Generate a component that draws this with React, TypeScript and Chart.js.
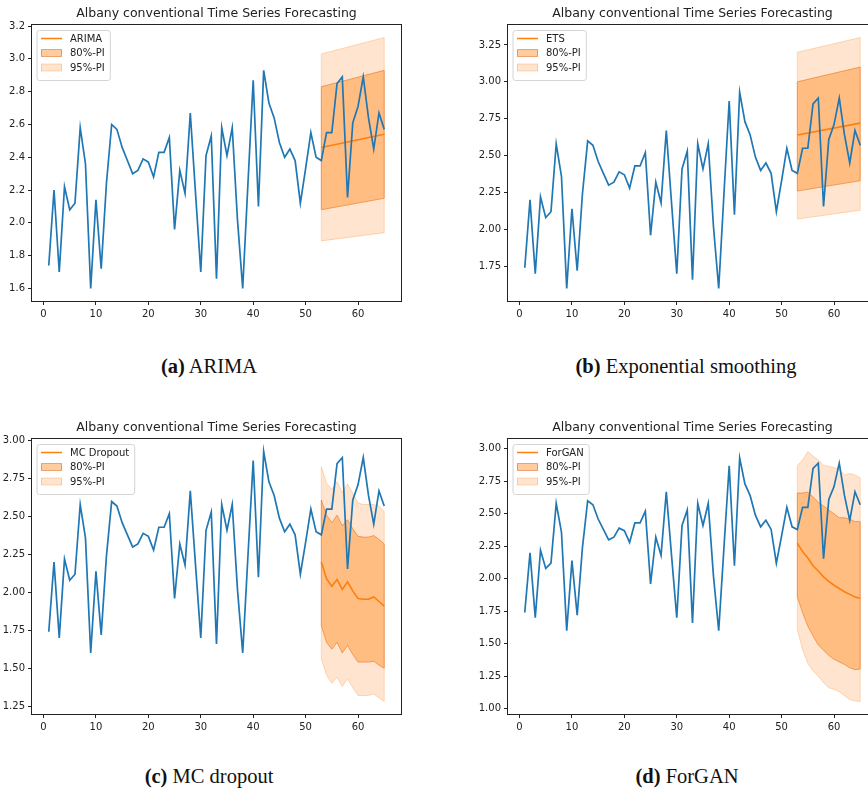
import React, { useEffect, useRef } from "react";
import { Chart, registerables } from "chart.js";

Chart.register(...registerables);

// ---- data ---------------------------------------------------------------
const chartTitle = "Albany conventional Time Series Forecasting";

// observed series, time steps 1..65
const observed = [
  1.74, 2.2, 1.7, 2.22, 2.08, 2.12, 2.58, 2.36, 1.6, 2.14,
  1.72, 2.24, 2.6, 2.57, 2.46, 2.38, 2.3, 2.32, 2.39, 2.37,
  2.28, 2.43, 2.43, 2.52, 1.96, 2.32, 2.18, 2.67, 2.18, 1.7,
  2.41, 2.53, 1.66, 2.58, 2.41, 2.58, 2.02, 1.6, 2.24, 2.87,
  2.1, 2.93, 2.73, 2.64, 2.49, 2.4, 2.45, 2.38, 2.12, 2.33,
  2.55, 2.4, 2.38, 2.55, 2.55, 2.85, 2.89, 2.155, 2.61, 2.71,
  2.89, 2.64, 2.45, 2.67, 2.57,
];
const observedSteps = observed.map((_, i) => i + 1);

// straight-line forecasts: start and end of the horizon
const lineHorizon = [53, 65];
const arimaMean = [2.46, 2.54];
const arima80Lo = [2.08, 2.15];
const arima80Hi = [2.83, 2.93];
const arima95Lo = [1.89, 1.94];
const arima95Hi = [3.03, 3.13];

const etsMean = [2.64, 2.72];
const ets80Lo = [2.26, 2.33];
const ets80Hi = [3.0, 3.1];
const ets95Lo = [2.07, 2.13];
const ets95Hi = [3.2, 3.3];

// step-by-step forecasts
const stepHorizon = [53, 54, 55, 56, 57, 58, 59, 60, 61, 62, 63, 64, 65];
const mcMean = [2.2, 2.09, 2.04, 2.085, 2.02, 2.07, 2.01, 1.96, 1.955, 1.955, 1.97, 1.94, 1.91];
const mc80Hi = [2.61, 2.51, 2.46, 2.51, 2.44, 2.48, 2.42, 2.37, 2.365, 2.365, 2.375, 2.35, 2.32];
const mc80Lo = [1.78, 1.67, 1.625, 1.67, 1.6, 1.65, 1.59, 1.54, 1.54, 1.54, 1.545, 1.52, 1.5];
const mc95Hi = [2.83, 2.72, 2.68, 2.73, 2.66, 2.715, 2.655, 2.59, 2.58, 2.58, 2.58, 2.57, 2.535];
const mc95Lo = [1.56, 1.455, 1.4, 1.44, 1.38, 1.43, 1.37, 1.32, 1.32, 1.32, 1.33, 1.305, 1.28];

const ganMean = [2.275, 2.21, 2.16, 2.1, 2.06, 2.015, 1.98, 1.95, 1.925, 1.9, 1.88, 1.86, 1.85];
const gan80Hi = [2.66, 2.66, 2.667, 2.63, 2.59, 2.56, 2.53, 2.5, 2.47, 2.47, 2.46, 2.44, 2.44];
const gan80Lo = [1.86, 1.74, 1.635, 1.56, 1.49, 1.45, 1.41, 1.38, 1.36, 1.34, 1.315, 1.3, 1.305];
const gan95Hi = [2.87, 2.915, 2.98, 2.945, 2.915, 2.875, 2.865, 2.857, 2.84, 2.8, 2.81, 2.8, 2.775];
const gan95Lo = [1.61, 1.455, 1.35, 1.29, 1.25, 1.2, 1.16, 1.15, 1.13, 1.1, 1.07, 1.06, 1.055];

const xTicks = [0, 10, 20, 30, 40, 50, 60];
const arimaYTicks = [1.6, 1.8, 2.0, 2.2, 2.4, 2.6, 2.8, 3.0, 3.2];
const etsYTicks = [1.75, 2.0, 2.25, 2.5, 2.75, 3.0, 3.25];
const mcYTicks = [1.25, 1.5, 1.75, 2.0, 2.25, 2.5, 2.75, 3.0];
const ganYTicks = [1.0, 1.25, 1.5, 1.75, 2.0, 2.25, 2.5, 2.75, 3.0];

// ---- styling ------------------------------------------------------------
const BLUE = "#1f77b4";
const ORANGE = "#ff7f0e";
const FILL80 = "rgba(255,127,14,0.40)";
const FILL95 = "rgba(255,127,14,0.20)";
const EDGE80 = "rgba(225,105,20,0.55)";
const EDGE95 = "rgba(255,127,14,0.28)";
const INK = "#222222";
const SANS = '"DejaVu Sans", Verdana, sans-serif';

type PanelSpec = {
  method: string;
  horizon: number[];
  mean: number[];
  lo80: number[];
  hi80: number[];
  lo95: number[];
  hi95: number[];
  yTicks: number[];
  decimals: number;
  caption: string;
  tag: string;
  left: number;
  top: number;
  width: number;
  height: number;
  area: { left: number; top: number; right: number; bottom: number };
};

const X_AXIS_H = 20;

const panels: PanelSpec[] = [
  {
    method: "ARIMA", horizon: lineHorizon, mean: arimaMean, lo80: arima80Lo, hi80: arima80Hi,
    lo95: arima95Lo, hi95: arima95Hi, yTicks: arimaYTicks, decimals: 1,
    tag: "(a)", caption: "ARIMA",
    left: 0, top: 0, width: 434, height: 330,
    area: { left: 32, top: 25, right: 401, bottom: 301 },
  },
  {
    method: "ETS", horizon: lineHorizon, mean: etsMean, lo80: ets80Lo, hi80: ets80Hi,
    lo95: ets95Lo, hi95: ets95Hi, yTicks: etsYTicks, decimals: 2,
    tag: "(b)", caption: "Exponential smoothing",
    left: 434, top: 0, width: 460, height: 330,
    area: { left: 74, top: 25, right: 443, bottom: 301 },
  },
  {
    method: "MC Dropout", horizon: stepHorizon, mean: mcMean, lo80: mc80Lo, hi80: mc80Hi,
    lo95: mc95Lo, hi95: mc95Hi, yTicks: mcYTicks, decimals: 2,
    tag: "(c)", caption: "MC dropout",
    left: 0, top: 410, width: 434, height: 330,
    area: { left: 32, top: 29, right: 401, bottom: 304 },
  },
  {
    method: "ForGAN", horizon: stepHorizon, mean: ganMean, lo80: gan80Lo, hi80: gan80Hi,
    lo95: gan95Lo, hi95: gan95Hi, yTicks: ganYTicks, decimals: 2,
    tag: "(d)", caption: "ForGAN",
    left: 434, top: 410, width: 460, height: 330,
    area: { left: 74, top: 29, right: 443, bottom: 304 },
  },
];

const pts = (xs: number[], ys: number[]) => xs.map((x, i) => ({ x, y: ys[i] }));

// axis limits with a 5% margin around everything plotted
function limits(values: number[]) {
  const lo = Math.min(...values);
  const hi = Math.max(...values);
  const pad = (hi - lo) * 0.05;
  return { min: lo - pad, max: hi + pad };
}

// spines, band end edges, title and a boxed legend
const decorations = {
  id: "decorations",
  afterDatasetDraw(chart: any, args: any) {
    const ds = chart.data.datasets[args.index];
    if (ds.edgeTo === undefined) return;
    const upper = args.meta.data;
    const lower = chart.getDatasetMeta(ds.edgeTo).data;
    const { ctx } = chart;
    ctx.save();
    ctx.strokeStyle = ds.borderColor;
    ctx.lineWidth = 1;
    for (const i of [0, upper.length - 1]) {
      ctx.beginPath();
      ctx.moveTo(upper[i].x, upper[i].y);
      ctx.lineTo(lower[i].x, lower[i].y);
      ctx.stroke();
    }
    ctx.restore();
  },
  afterDraw(chart: any) {
    const { ctx, chartArea } = chart;
    const { left, top, right, bottom } = chartArea;
    ctx.save();
    // frame
    ctx.strokeStyle = INK;
    ctx.lineWidth = 1;
    const l = Math.round(left) - 0.5;
    const t = Math.round(top) - 0.5;
    const r = Math.round(right) + 0.5;
    const b = Math.round(bottom) + 0.5;
    ctx.strokeRect(l, t, r - l, b - t);

    // title
    ctx.fillStyle = INK;
    ctx.font = `12.5px ${SANS}`;
    ctx.textAlign = "center";
    ctx.textBaseline = "middle";
    ctx.fillText(chartTitle, (left + right) / 2, top - 11);

    // legend
    const ds = chart.data.datasets;
    const entries = [
      { label: ds[1].label, kind: "line", color: ds[1].borderColor, edge: "" },
      { label: ds[2].label, kind: "patch", color: FILL80, edge: EDGE80 },
      { label: ds[4].label, kind: "patch", color: FILL95, edge: EDGE95 },
    ];
    ctx.font = `10px ${SANS}`;
    const textW = Math.max(...entries.map((e) => ctx.measureText(e.label).width));
    const bx = left + 5;
    const by = top + 5.5;
    const bw = 33 + textW + 5.5;
    const bh = 50;
    ctx.beginPath();
    const rad = 2.5;
    ctx.moveTo(bx + rad, by);
    ctx.arcTo(bx + bw, by, bx + bw, by + bh, rad);
    ctx.arcTo(bx + bw, by + bh, bx, by + bh, rad);
    ctx.arcTo(bx, by + bh, bx, by, rad);
    ctx.arcTo(bx, by, bx + bw, by, rad);
    ctx.closePath();
    ctx.fillStyle = "rgba(255,255,255,0.8)";
    ctx.fill();
    ctx.strokeStyle = "#d4d4d4";
    ctx.lineWidth = 1;
    ctx.stroke();

    entries.forEach((e, i) => {
      const cy = by + 8 + i * 14.5;
      if (e.kind === "line") {
        ctx.strokeStyle = e.color;
        ctx.lineWidth = 1.5;
        ctx.beginPath();
        ctx.moveTo(bx + 4, cy);
        ctx.lineTo(bx + 25, cy);
        ctx.stroke();
      } else {
        ctx.fillStyle = e.color;
        ctx.fillRect(bx + 4, cy - 3.5, 21, 7);
        ctx.strokeStyle = e.edge;
        ctx.lineWidth = 1;
        ctx.strokeRect(bx + 4.5, cy - 3.5, 20, 7);
      }
      ctx.fillStyle = INK;
      ctx.textAlign = "left";
      ctx.textBaseline = "middle";
      ctx.fillText(e.label, bx + 33, cy + 0.5);
    });
    ctx.restore();
  },
};

function ForecastPanel({ spec }: { spec: PanelSpec }) {
  const ref = useRef<HTMLCanvasElement | null>(null);

  useEffect(() => {
    if (!ref.current) return;
    const yLim = limits([...observed, ...spec.lo95, ...spec.hi95, ...spec.lo80, ...spec.hi80, ...spec.mean]);
    const xLim = limits(observedSteps);
    const { area } = spec;

    const axisCommon = {
      type: "linear" as const,
      grid: {
        display: true,
        drawOnChartArea: false,
        drawTicks: true,
        tickLength: 4,
        color: INK,
        lineWidth: 1,
      },
      border: { display: false },
    };

    const chart = new Chart(ref.current, {
      type: "line",
      data: {
        datasets: [
          {
            label: "observed",
            data: pts(observedSteps, observed),
            borderColor: BLUE,
            borderWidth: 1.7,
            pointRadius: 0,
            fill: false,
          },
          {
            label: spec.method,
            data: pts(spec.horizon, spec.mean),
            borderColor: ORANGE,
            borderWidth: 1.6,
            pointRadius: 0,
            fill: false,
          },
          {
            label: "80%-PI",
            data: pts(spec.horizon, spec.hi80),
            borderColor: EDGE80,
            backgroundColor: FILL80,
            borderWidth: 1,
            pointRadius: 0,
            fill: "+1",
            edgeTo: 3,
          } as any,
          {
            label: "80%-PI lower",
            data: pts(spec.horizon, spec.lo80),
            borderColor: EDGE80,
            borderWidth: 1,
            pointRadius: 0,
            fill: false,
          },
          {
            label: "95%-PI",
            data: pts(spec.horizon, spec.hi95),
            borderColor: EDGE95,
            backgroundColor: FILL95,
            borderWidth: 1,
            pointRadius: 0,
            fill: "+1",
            edgeTo: 5,
          } as any,
          {
            label: "95%-PI lower",
            data: pts(spec.horizon, spec.lo95),
            borderColor: EDGE95,
            borderWidth: 1,
            pointRadius: 0,
            fill: false,
          },
        ],
      },
      options: {
        animation: false,
        responsive: false,
        maintainAspectRatio: false,
        devicePixelRatio: 1,
        layout: {
          padding: {
            left: 0,
            top: area.top,
            right: spec.width - area.right,
            bottom: spec.height - area.bottom - X_AXIS_H,
          },
        },
        elements: { line: { tension: 0 } },
        plugins: {
          legend: { display: false },
          title: { display: false },
          tooltip: { enabled: false },
        },
        scales: {
          x: {
            ...axisCommon,
            min: xLim.min,
            max: xLim.max,
            afterBuildTicks: (s: any) => {
              s.ticks = xTicks.map((v) => ({ value: v }));
            },
            afterFit: (s: any) => {
              s.height = X_AXIS_H;
            },
            ticks: {
              autoSkip: false,
              maxRotation: 0,
              padding: 3,
              color: INK,
              font: { family: SANS, size: 10 },
              callback: (v: any) => String(v),
            },
          },
          y: {
            ...axisCommon,
            min: yLim.min,
            max: yLim.max,
            afterBuildTicks: (s: any) => {
              s.ticks = spec.yTicks.map((v) => ({ value: v }));
            },
            afterFit: (s: any) => {
              s.width = area.left;
            },
            ticks: {
              autoSkip: false,
              padding: 3,
              color: INK,
              font: { family: SANS, size: 10 },
              callback: (v: any) => Number(v).toFixed(spec.decimals),
            },
          },
        },
      },
      plugins: [decorations],
    } as any);

    return () => chart.destroy();
  }, [spec]);

  return (
    <canvas
      ref={ref}
      width={spec.width}
      height={spec.height}
      style={{ position: "absolute", left: spec.left, top: spec.top, width: spec.width, height: spec.height }}
    />
  );
}

const captionCenters = [
  { x: 209, y: 366 },
  { x: 686, y: 366 },
  { x: 209, y: 776 },
  { x: 687, y: 776 },
];

export default function App() {
  return (
    <div
      style={{
        position: "absolute",
        left: 0,
        top: 0,
        width: 868,
        height: 793,
        overflow: "hidden",
        background: "#fff",
      }}
    >
      {panels.map((p) => (
        <ForecastPanel key={p.method} spec={p} />
      ))}
      {panels.map((p, i) => (
        <div
          key={p.tag}
          style={{
            position: "absolute",
            left: captionCenters[i].x,
            top: captionCenters[i].y,
            transform: "translate(-50%, -50%)",
            whiteSpace: "nowrap",
            fontFamily: '"Liberation Serif", "Times New Roman", serif',
            fontSize: 20.5,
            lineHeight: "21px",
            color: "#111",
          }}
        >
          <b>{p.tag}</b> {p.caption}
        </div>
      ))}
    </div>
  );
}
